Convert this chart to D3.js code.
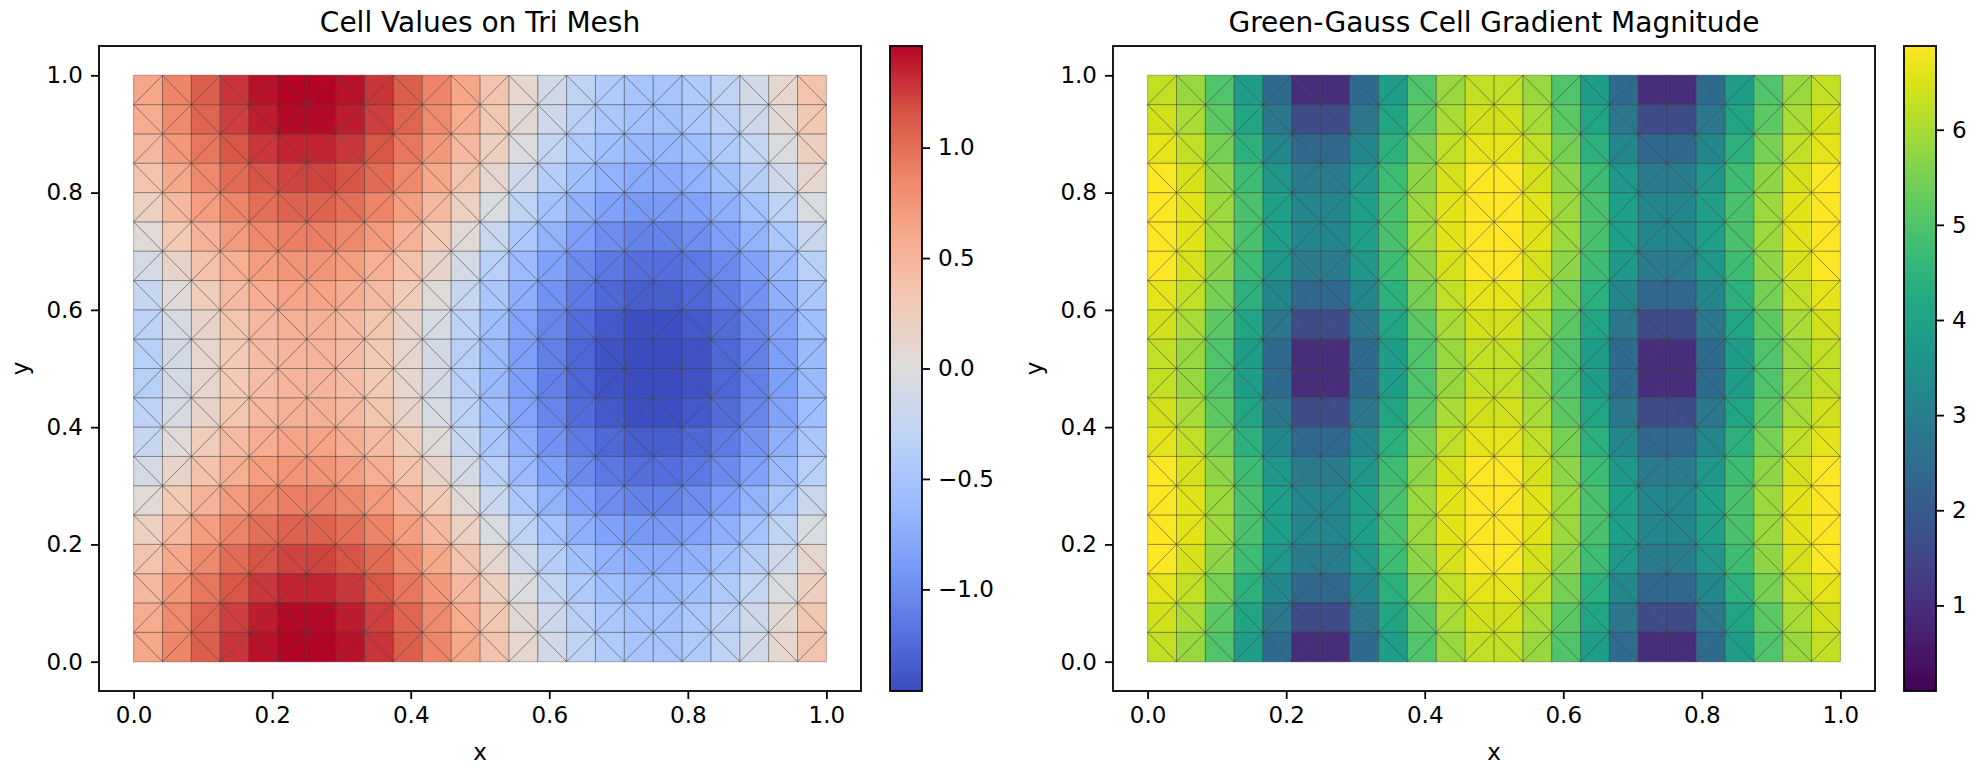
<!DOCTYPE html>
<html>
<head>
<meta charset="utf-8">
<script src="https://cdn.jsdelivr.net/npm/d3@7"></script>
<style>
  body { margin: 0; background: #fff; }
  text { font-family: "DejaVu Sans", sans-serif; fill: #000; }
</style>
</head>
<body>
<svg id="fig"></svg>
<script>
// Mesh cells: 24 columns across x, 20 rows across y.
// Rows run from the top of the plot (y = 1) down to the bottom (y = 0).
const nCols = 24;
const nRows = 20;

// cell value
const cellValues = [
  [0.62, 0.87, 1.10, 1.28, 1.41, 1.48, 1.48, 1.41, 1.28, 1.10, 0.87, 0.62, 0.36, 0.11, -0.12, -0.30, -0.43, -0.50, -0.50, -0.43, -0.30, -0.12, 0.11, 0.36],
  [0.58, 0.83, 1.06, 1.24, 1.37, 1.44, 1.44, 1.37, 1.24, 1.06, 0.83, 0.58, 0.32, 0.07, -0.16, -0.34, -0.47, -0.54, -0.54, -0.47, -0.34, -0.16, 0.07, 0.32],
  [0.48, 0.73, 0.96, 1.14, 1.27, 1.34, 1.34, 1.27, 1.14, 0.96, 0.73, 0.48, 0.22, -0.03, -0.26, -0.44, -0.57, -0.64, -0.64, -0.57, -0.44, -0.26, -0.03, 0.22],
  [0.36, 0.61, 0.84, 1.02, 1.15, 1.22, 1.22, 1.15, 1.02, 0.84, 0.61, 0.36, 0.10, -0.15, -0.38, -0.56, -0.69, -0.76, -0.76, -0.69, -0.56, -0.38, -0.15, 0.10],
  [0.21, 0.46, 0.69, 0.87, 1.00, 1.07, 1.07, 1.00, 0.87, 0.69, 0.46, 0.21, -0.05, -0.30, -0.53, -0.71, -0.84, -0.91, -0.91, -0.84, -0.71, -0.53, -0.30, -0.05],
  [0.05, 0.30, 0.53, 0.71, 0.84, 0.91, 0.91, 0.84, 0.71, 0.53, 0.30, 0.05, -0.21, -0.46, -0.69, -0.87, -1.00, -1.07, -1.07, -1.00, -0.87, -0.69, -0.46, -0.21],
  [-0.10, 0.15, 0.38, 0.56, 0.69, 0.76, 0.76, 0.69, 0.56, 0.38, 0.15, -0.10, -0.36, -0.61, -0.84, -1.02, -1.15, -1.22, -1.22, -1.15, -1.02, -0.84, -0.61, -0.36],
  [-0.22, 0.03, 0.26, 0.44, 0.57, 0.64, 0.64, 0.57, 0.44, 0.26, 0.03, -0.22, -0.48, -0.73, -0.96, -1.14, -1.27, -1.34, -1.34, -1.27, -1.14, -0.96, -0.73, -0.48],
  [-0.32, -0.07, 0.16, 0.34, 0.47, 0.54, 0.54, 0.47, 0.34, 0.16, -0.07, -0.32, -0.58, -0.83, -1.06, -1.24, -1.37, -1.44, -1.44, -1.37, -1.24, -1.06, -0.83, -0.58],
  [-0.36, -0.11, 0.12, 0.30, 0.43, 0.50, 0.50, 0.43, 0.30, 0.12, -0.11, -0.36, -0.62, -0.87, -1.10, -1.28, -1.41, -1.48, -1.48, -1.41, -1.28, -1.10, -0.87, -0.62],
  [-0.36, -0.11, 0.12, 0.30, 0.43, 0.50, 0.50, 0.43, 0.30, 0.12, -0.11, -0.36, -0.62, -0.87, -1.10, -1.28, -1.41, -1.48, -1.48, -1.41, -1.28, -1.10, -0.87, -0.62],
  [-0.32, -0.07, 0.16, 0.34, 0.47, 0.54, 0.54, 0.47, 0.34, 0.16, -0.07, -0.32, -0.58, -0.83, -1.06, -1.24, -1.37, -1.44, -1.44, -1.37, -1.24, -1.06, -0.83, -0.58],
  [-0.22, 0.03, 0.26, 0.44, 0.57, 0.64, 0.64, 0.57, 0.44, 0.26, 0.03, -0.22, -0.48, -0.73, -0.96, -1.14, -1.27, -1.34, -1.34, -1.27, -1.14, -0.96, -0.73, -0.48],
  [-0.10, 0.15, 0.38, 0.56, 0.69, 0.76, 0.76, 0.69, 0.56, 0.38, 0.15, -0.10, -0.36, -0.61, -0.84, -1.02, -1.15, -1.22, -1.22, -1.15, -1.02, -0.84, -0.61, -0.36],
  [0.05, 0.30, 0.53, 0.71, 0.84, 0.91, 0.91, 0.84, 0.71, 0.53, 0.30, 0.05, -0.21, -0.46, -0.69, -0.87, -1.00, -1.07, -1.07, -1.00, -0.87, -0.69, -0.46, -0.21],
  [0.21, 0.46, 0.69, 0.87, 1.00, 1.07, 1.07, 1.00, 0.87, 0.69, 0.46, 0.21, -0.05, -0.30, -0.53, -0.71, -0.84, -0.91, -0.91, -0.84, -0.71, -0.53, -0.30, -0.05],
  [0.36, 0.61, 0.84, 1.02, 1.15, 1.22, 1.22, 1.15, 1.02, 0.84, 0.61, 0.36, 0.10, -0.15, -0.38, -0.56, -0.69, -0.76, -0.76, -0.69, -0.56, -0.38, -0.15, 0.10],
  [0.48, 0.73, 0.96, 1.14, 1.27, 1.34, 1.34, 1.27, 1.14, 0.96, 0.73, 0.48, 0.22, -0.03, -0.26, -0.44, -0.57, -0.64, -0.64, -0.57, -0.44, -0.26, -0.03, 0.22],
  [0.58, 0.83, 1.06, 1.24, 1.37, 1.44, 1.44, 1.37, 1.24, 1.06, 0.83, 0.58, 0.32, 0.07, -0.16, -0.34, -0.47, -0.54, -0.54, -0.47, -0.34, -0.16, 0.07, 0.32],
  [0.62, 0.87, 1.10, 1.28, 1.41, 1.48, 1.48, 1.41, 1.28, 1.10, 0.87, 0.62, 0.36, 0.11, -0.12, -0.30, -0.43, -0.50, -0.50, -0.43, -0.30, -0.12, 0.11, 0.36]
];

// gradient magnitude per cell
const gradMagnitude = [
  [6.25, 5.83, 5.01, 3.86, 2.45, 0.95, 0.95, 2.45, 3.86, 5.01, 5.83, 6.25, 6.25, 5.83, 5.01, 3.86, 2.45, 0.95, 0.95, 2.45, 3.86, 5.01, 5.83, 6.25],
  [6.39, 5.98, 5.18, 4.08, 2.80, 1.64, 1.64, 2.80, 4.08, 5.18, 5.98, 6.39, 6.39, 5.98, 5.18, 4.08, 2.80, 1.64, 1.64, 2.80, 4.08, 5.18, 5.98, 6.39],
  [6.61, 6.22, 5.46, 4.42, 3.27, 2.37, 2.37, 3.27, 4.42, 5.46, 6.22, 6.61, 6.61, 6.22, 5.46, 4.42, 3.27, 2.37, 2.37, 3.27, 4.42, 5.46, 6.22, 6.61],
  [6.83, 6.44, 5.72, 4.74, 3.69, 2.92, 2.92, 3.69, 4.74, 5.72, 6.44, 6.83, 6.83, 6.44, 5.72, 4.74, 3.69, 2.92, 2.92, 3.69, 4.74, 5.72, 6.44, 6.83],
  [6.96, 6.58, 5.87, 4.93, 3.93, 3.21, 3.21, 3.93, 4.93, 5.87, 6.58, 6.96, 6.96, 6.58, 5.87, 4.93, 3.93, 3.21, 3.21, 3.93, 4.93, 5.87, 6.58, 6.96],
  [6.96, 6.58, 5.87, 4.93, 3.93, 3.21, 3.21, 3.93, 4.93, 5.87, 6.58, 6.96, 6.96, 6.58, 5.87, 4.93, 3.93, 3.21, 3.21, 3.93, 4.93, 5.87, 6.58, 6.96],
  [6.83, 6.44, 5.72, 4.74, 3.69, 2.92, 2.92, 3.69, 4.74, 5.72, 6.44, 6.83, 6.83, 6.44, 5.72, 4.74, 3.69, 2.92, 2.92, 3.69, 4.74, 5.72, 6.44, 6.83],
  [6.61, 6.22, 5.46, 4.42, 3.27, 2.37, 2.37, 3.27, 4.42, 5.46, 6.22, 6.61, 6.61, 6.22, 5.46, 4.42, 3.27, 2.37, 2.37, 3.27, 4.42, 5.46, 6.22, 6.61],
  [6.39, 5.98, 5.18, 4.08, 2.80, 1.64, 1.64, 2.80, 4.08, 5.18, 5.98, 6.39, 6.39, 5.98, 5.18, 4.08, 2.80, 1.64, 1.64, 2.80, 4.08, 5.18, 5.98, 6.39],
  [6.25, 5.83, 5.01, 3.86, 2.45, 0.95, 0.95, 2.45, 3.86, 5.01, 5.83, 6.25, 6.25, 5.83, 5.01, 3.86, 2.45, 0.95, 0.95, 2.45, 3.86, 5.01, 5.83, 6.25],
  [6.25, 5.83, 5.01, 3.86, 2.45, 0.95, 0.95, 2.45, 3.86, 5.01, 5.83, 6.25, 6.25, 5.83, 5.01, 3.86, 2.45, 0.95, 0.95, 2.45, 3.86, 5.01, 5.83, 6.25],
  [6.39, 5.98, 5.18, 4.08, 2.80, 1.64, 1.64, 2.80, 4.08, 5.18, 5.98, 6.39, 6.39, 5.98, 5.18, 4.08, 2.80, 1.64, 1.64, 2.80, 4.08, 5.18, 5.98, 6.39],
  [6.61, 6.22, 5.46, 4.42, 3.27, 2.37, 2.37, 3.27, 4.42, 5.46, 6.22, 6.61, 6.61, 6.22, 5.46, 4.42, 3.27, 2.37, 2.37, 3.27, 4.42, 5.46, 6.22, 6.61],
  [6.83, 6.44, 5.72, 4.74, 3.69, 2.92, 2.92, 3.69, 4.74, 5.72, 6.44, 6.83, 6.83, 6.44, 5.72, 4.74, 3.69, 2.92, 2.92, 3.69, 4.74, 5.72, 6.44, 6.83],
  [6.96, 6.58, 5.87, 4.93, 3.93, 3.21, 3.21, 3.93, 4.93, 5.87, 6.58, 6.96, 6.96, 6.58, 5.87, 4.93, 3.93, 3.21, 3.21, 3.93, 4.93, 5.87, 6.58, 6.96],
  [6.96, 6.58, 5.87, 4.93, 3.93, 3.21, 3.21, 3.93, 4.93, 5.87, 6.58, 6.96, 6.96, 6.58, 5.87, 4.93, 3.93, 3.21, 3.21, 3.93, 4.93, 5.87, 6.58, 6.96],
  [6.83, 6.44, 5.72, 4.74, 3.69, 2.92, 2.92, 3.69, 4.74, 5.72, 6.44, 6.83, 6.83, 6.44, 5.72, 4.74, 3.69, 2.92, 2.92, 3.69, 4.74, 5.72, 6.44, 6.83],
  [6.61, 6.22, 5.46, 4.42, 3.27, 2.37, 2.37, 3.27, 4.42, 5.46, 6.22, 6.61, 6.61, 6.22, 5.46, 4.42, 3.27, 2.37, 2.37, 3.27, 4.42, 5.46, 6.22, 6.61],
  [6.39, 5.98, 5.18, 4.08, 2.80, 1.64, 1.64, 2.80, 4.08, 5.18, 5.98, 6.39, 6.39, 5.98, 5.18, 4.08, 2.80, 1.64, 1.64, 2.80, 4.08, 5.18, 5.98, 6.39],
  [6.25, 5.83, 5.01, 3.86, 2.45, 0.95, 0.95, 2.45, 3.86, 5.01, 5.83, 6.25, 6.25, 5.83, 5.01, 3.86, 2.45, 0.95, 0.95, 2.45, 3.86, 5.01, 5.83, 6.25]
];

const axisTicks = [0.0, 0.2, 0.4, 0.6, 0.8, 1.0];
const valueTicks = [-1.0, -0.5, 0.0, 0.5, 1.0];
const gradTicks = [1, 2, 3, 4, 5, 6];
const valueRange = [-1.46, 1.46];   // colour bar ends, left
const gradRange = [0.10, 6.88];     // colour bar ends, right
const titles = ["Cell Values on Tri Mesh", "Green-Gauss Cell Gradient Magnitude"];

// matplotlib "coolwarm" sampled at 11 even steps
const coolwarmStops = ["#3b4cc0", "#5977e3", "#7b9ff9", "#9ebeff", "#c0d4f5", "#dddcdc",
                       "#f2cbb7", "#f7ac8e", "#ee8468", "#d65244", "#b40426"];

const W = 1980, H = 774;
const axTop = 46, axBottom = 691, axWidth = 762;
const cbWidth = 32, cbGap = 29;
const tickLen = 8, tickPad = 8;

const svg = d3.select("#fig").attr("width", W).attr("height", H);
svg.append("rect").attr("width", W).attr("height", H).attr("fill", "#fff");

const coolwarm = d3.scaleLinear()
    .domain(d3.range(coolwarmStops.length).map(i => valueRange[0] + i * (valueRange[1] - valueRange[0]) / (coolwarmStops.length - 1)))
    .range(coolwarmStops)
    .interpolate(d3.interpolateRgb)
    .clamp(true);

const viridis = d3.scaleSequential(d3.interpolateViridis).domain(gradRange).clamp(true);

const panels = [
    { left: 99, title: titles[0], values: cellValues, color: coolwarm,
      range: valueRange, ticks: valueTicks, fmt: d3.format(".1f"), id: "cb0" },
    { left: 1113, title: titles[1], values: gradMagnitude, color: viridis,
      range: gradRange, ticks: gradTicks, fmt: d3.format("d"), id: "cb1" }
];

function styleAxis(sel) {
    sel.select(".domain").remove();
    sel.selectAll(".tick line").attr("stroke", "#000").attr("stroke-width", 1.8);
    sel.selectAll(".tick text").attr("font-size", 23).attr("fill", "#000")
        .attr("font-family", "DejaVu Sans, sans-serif");
}

function drawPanel(p) {
    const g = svg.append("g");
    const x = d3.scaleLinear().domain([-0.05, 1.05]).range([p.left, p.left + axWidth]);
    const y = d3.scaleLinear().domain([-0.05, 1.05]).range([axBottom, axTop]);

    // build the two triangles of every cell
    const tris = [];
    p.values.forEach((row, r) => {
        row.forEach((v, c) => {
            const x0 = x(c / nCols), x1 = x((c + 1) / nCols);
            const yT = y(1 - r / nRows), yB = y(1 - (r + 1) / nRows);
            if ((r + c) % 2 === 0) {
                tris.push({ v, pts: [[x0, yB], [x1, yB], [x1, yT]] });
                tris.push({ v, pts: [[x0, yB], [x1, yT], [x0, yT]] });
            } else {
                tris.push({ v, pts: [[x0, yB], [x1, yB], [x0, yT]] });
                tris.push({ v, pts: [[x1, yB], [x1, yT], [x0, yT]] });
            }
        });
    });

    const triPath = t => "M" + t.pts.map(q => q.join(",")).join("L") + "Z";

    g.append("g").selectAll("path")
        .data(tris)
        .enter()
        .append("path")
        .attr("d", triPath)
        .attr("fill", d => p.color(d.v))
        .attr("stroke", d => p.color(d.v))
        .attr("stroke-width", 0.6);

    // mesh edges, one path so overlaps do not darken
    g.append("path")
        .attr("d", tris.map(triPath).join(""))
        .attr("fill", "none")
        .attr("stroke", "#3c3c3c")
        .attr("stroke-opacity", 0.4)
        .attr("stroke-width", 0.8);

    // axes
    const fmt = d3.format(".1f");
    const xa = g.append("g")
        .attr("transform", `translate(0,${axBottom})`)
        .call(d3.axisBottom(x).tickValues(axisTicks).tickFormat(fmt).tickSize(tickLen).tickPadding(tickPad));
    styleAxis(xa);
    const ya = g.append("g")
        .attr("transform", `translate(${p.left},0)`)
        .call(d3.axisLeft(y).tickValues(axisTicks).tickFormat(fmt).tickSize(tickLen).tickPadding(tickPad));
    styleAxis(ya);

    g.append("rect")
        .attr("x", p.left).attr("y", axTop)
        .attr("width", axWidth).attr("height", axBottom - axTop)
        .attr("fill", "none").attr("stroke", "#000").attr("stroke-width", 1.8);

    g.append("text")
        .attr("x", p.left + axWidth / 2).attr("y", 32)
        .attr("text-anchor", "middle").attr("font-size", 28)
        .text(p.title);

    g.append("text")
        .attr("x", p.left + axWidth / 2).attr("y", 760)
        .attr("text-anchor", "middle").attr("font-size", 23)
        .text("x");

    g.append("text")
        .attr("transform", `translate(${p.left - 71},${(axTop + axBottom) / 2}) rotate(-90)`)
        .attr("text-anchor", "middle").attr("font-size", 23)
        .text("y");

    // colour bar
    const cbX = p.left + axWidth + cbGap;
    const grad = svg.append("defs").append("linearGradient")
        .attr("id", p.id)
        .attr("x1", 0).attr("y1", 1).attr("x2", 0).attr("y2", 0);
    d3.range(0, 1.0001, 0.02).forEach(t => {
        grad.append("stop")
            .attr("offset", t)
            .attr("stop-color", p.color(p.range[0] + t * (p.range[1] - p.range[0])));
    });
    g.append("rect")
        .attr("x", cbX).attr("y", axTop)
        .attr("width", cbWidth).attr("height", axBottom - axTop)
        .attr("fill", `url(#${p.id})`)
        .attr("stroke", "#000").attr("stroke-width", 1.8);

    const cy = d3.scaleLinear().domain(p.range).range([axBottom, axTop]);
    const ca = g.append("g")
        .attr("transform", `translate(${cbX + cbWidth},0)`)
        .call(d3.axisRight(cy).tickValues(p.ticks).tickFormat(p.fmt).tickSize(tickLen).tickPadding(tickPad));
    styleAxis(ca);
}

panels.forEach(drawPanel);
</script>
</body>
</html>
